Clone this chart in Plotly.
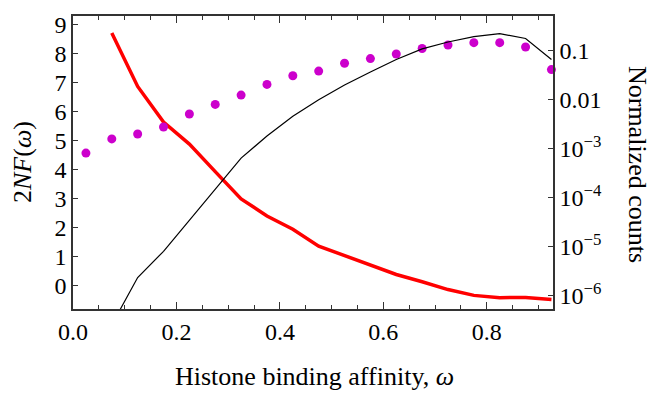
import plotly.graph_objects as go

# Data
omega_dots = [0.025, 0.075, 0.125, 0.175, 0.225, 0.275, 0.325, 0.375, 0.425, 0.475,
              0.525, 0.575, 0.625, 0.675, 0.725, 0.775, 0.825, 0.875, 0.925]
twoNF_dots = [4.57, 5.06, 5.23, 5.47, 5.92, 6.25, 6.57, 6.94, 7.24, 7.40,
              7.67, 7.83, 7.99, 8.18, 8.30, 8.38, 8.38, 8.23, 7.45]

omega_line = [0.075, 0.125, 0.175, 0.225, 0.275, 0.325, 0.375, 0.425, 0.475,
              0.525, 0.575, 0.625, 0.675, 0.725, 0.775, 0.825, 0.875, 0.925]
twoNF_line = [8.71, 6.87, 5.64, 4.88, 3.93, 2.99, 2.40, 1.94, 1.36,
              1.03, 0.68, 0.38, 0.13, -0.14, -0.34, -0.42, -0.41, -0.48]
counts = [2.5e-7, 2.3e-6, 7.9e-6, 3.4e-5, 1.48e-4, 6.3e-4, 1.78e-3, 4.5e-3, 9.8e-3,
          0.0195, 0.036, 0.065, 0.107, 0.148, 0.19, 0.219, 0.174, 0.065]

x_ticks = [0.0, 0.2, 0.4, 0.6, 0.8]
y_ticks = [0, 1, 2, 3, 4, 5, 6, 7, 8, 9]
log_tickvals = [1e-6, 1e-5, 1e-4, 1e-3, 0.01, 0.1]
log_ticktext = ["10<sup>−6</sup>", "10<sup>−5</sup>", "10<sup>−4</sup>",
                "10<sup>−3</sup>", "0.01", "0.1"]

FONT = "Liberation Serif"
AX = "#333333"

fig = go.Figure()
fig.add_trace(go.Scatter(x=omega_line, y=counts, mode="lines", yaxis="y2",
                         line=dict(color="black", width=1.2), showlegend=False))
fig.add_trace(go.Scatter(x=omega_line, y=twoNF_line, mode="lines",
                         line=dict(color="#FF0000", width=3.5), showlegend=False))
fig.add_trace(go.Scatter(x=omega_dots, y=twoNF_dots, mode="markers", cliponaxis=False,
                         marker=dict(color="#CC00CC", size=9), showlegend=False))

fig.update_layout(
    width=653, height=393,
    margin=dict(l=73, r=100, t=12, b=84),
    paper_bgcolor="white", plot_bgcolor="white",
    font=dict(family=FONT, size=24, color="black"),
    xaxis=dict(range=[0, 0.928], tickvals=x_ticks, tickformat=".1f",
               ticks="inside", ticklen=7, tickwidth=1.3, tickcolor=AX,
               minor=dict(ticks="inside", dtick=0.05, tick0=0, ticklen=4, tickwidth=1.1, tickcolor=AX),
               showline=True, linecolor=AX, linewidth=1.5, mirror="ticks",
               showgrid=False, zeroline=False),
    yaxis=dict(range=[-0.81, 9.3], tickvals=y_ticks,
               ticks="inside", ticklen=5, tickwidth=1.3, tickcolor=AX,
               showline=True, linecolor=AX, linewidth=1.5,
               showgrid=False, zeroline=False),
    yaxis2=dict(type="log", range=[-6.28, -0.30], overlaying="y", side="right",
                tickvals=log_tickvals, ticktext=log_ticktext,
                ticks="inside", ticklen=5, tickwidth=1.3, tickcolor=AX,
                showline=True, linecolor=AX, linewidth=1.5,
                showgrid=False, zeroline=False),
    annotations=[
        dict(text="Histone binding affinity, <i>ω</i>", xref="paper", yref="paper",
             x=0.504, y=-0.232, showarrow=False, xanchor="center", yanchor="middle",
             font=dict(family=FONT, size=26)),
        dict(text="2<i>NF</i>(<i>ω</i>)", xref="paper", yref="paper",
             x=-0.104, y=0.502, showarrow=False, textangle=-90,
             xanchor="center", yanchor="middle", font=dict(family=FONT, size=26)),
        dict(text="Normalized counts", xref="paper", yref="paper",
             x=1.175, y=0.495, showarrow=False, textangle=90,
             xanchor="center", yanchor="middle", font=dict(family=FONT, size=26)),
    ],
)

fig.write_html("out.html", config={"displayModeBar": False},
               post_script="document.body.style.margin='0';document.body.style.overflow='hidden';")
